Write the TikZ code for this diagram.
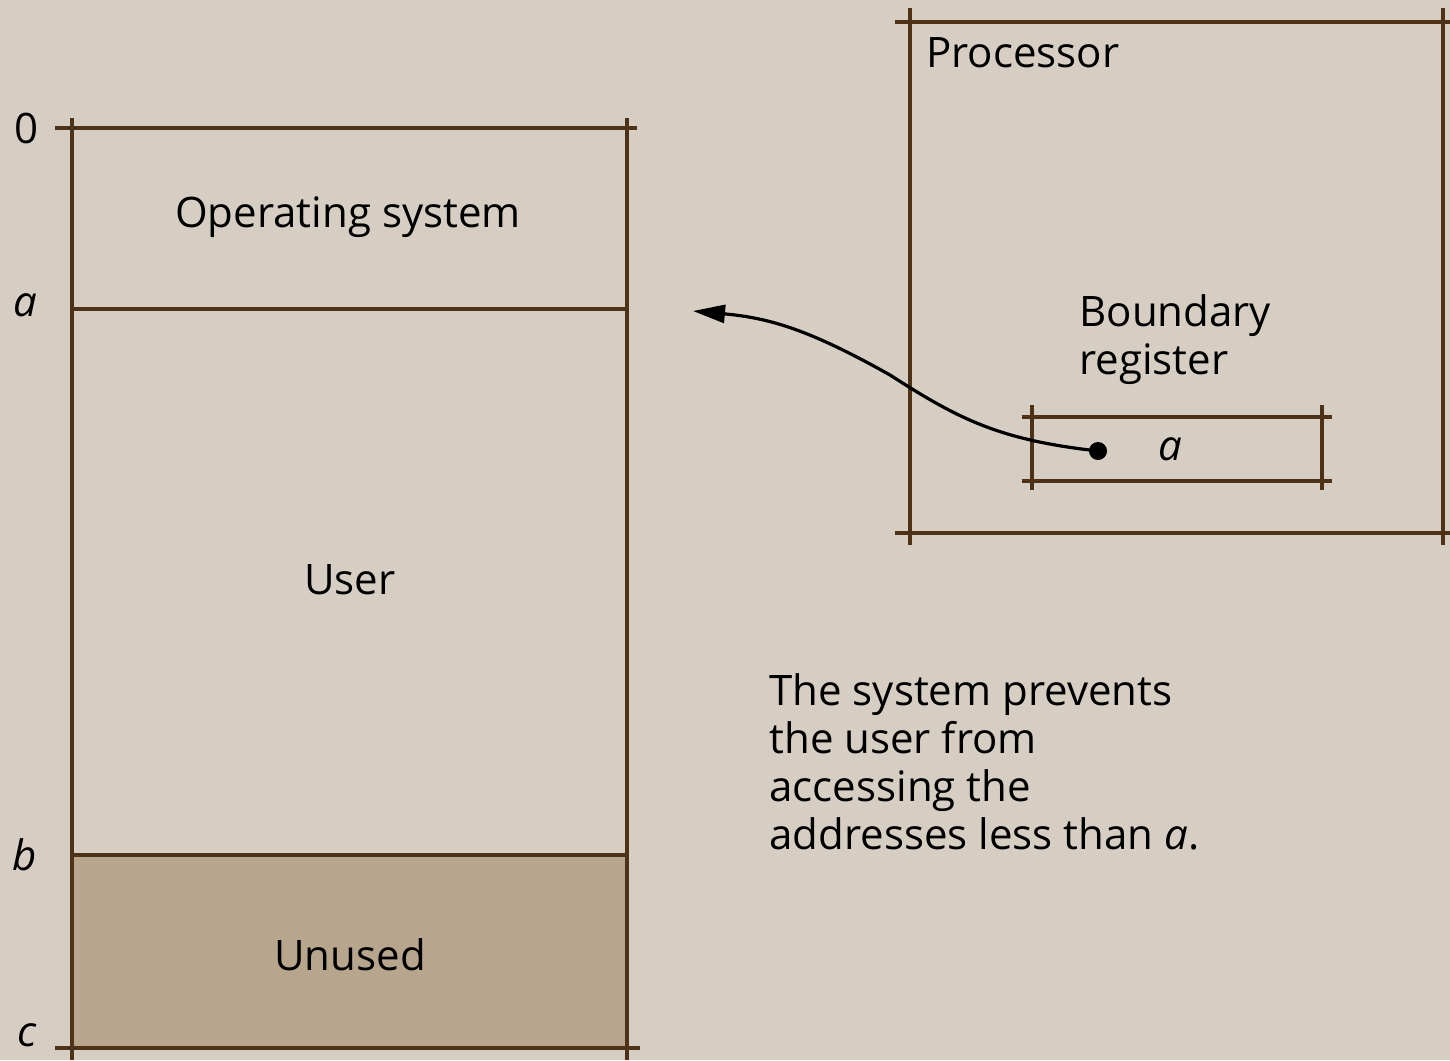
\documentclass[tikz,border=0pt]{standalone}
\usepackage{fontspec}
\setmainfont{Open Sans}
\usetikzlibrary{arrows.meta}
\definecolor{paper}{HTML}{D6CEC2}
\definecolor{rule}{HTML}{4E3218}
\definecolor{unusedfill}{HTML}{B7A58D}
\tikzset{
  frame/.style={draw=rule, line width=1.8pt},
  lbl/.style={font=\fontsize{21}{24}\selectfont, inner sep=0pt},
  addr/.style={font=\fontsize{21}{24}\selectfont\itshape, inner sep=0pt},
}
\begin{document}
\begin{tikzpicture}[x=0.5pt, y=-0.5pt]
\useasboundingbox (0,0) rectangle (1450,1060);
\fill[paper] (0,0) rectangle (1450,1060);

% memory layout
\fill[unusedfill] (72,855) rectangle (627,1048);
\draw[frame] (55,128) -- (637,128);
\draw[frame] (72,118) -- (72,1060);
\draw[frame] (627,118) -- (627,1060);
\draw[frame] (72,309) -- (627,309);
\draw[frame] (72,855) -- (627,855);
\draw[frame] (55,1048) -- (640,1048);

\node[lbl] (zero) at (27,128) {0};
\node[addr] (la) at (25,305) {a};
\node[addr] (lb) at (25,855) {b};
\node[addr] (lc) at (27,1035) {c};

\node[lbl] (os) at (348,217) {Operating system};
\node[lbl] (user) at (350,580) {User};
\node[lbl] (unused) at (350,955) {Unused};

% processor
\draw[frame] (895,22) -- (1450,22);
\draw[frame] (895,533) -- (1450,533);
\draw[frame] (910,8) -- (910,545);
\draw[frame] (1443,8) -- (1443,545);
\node[lbl, anchor=west] (proc) at (926,53) {Processor};
\node[lbl, anchor=north west, align=left] (breg) at (1079,294) {Boundary\\register};

% boundary register
\draw[frame] (1022,417) -- (1332,417);
\draw[frame] (1022,481) -- (1332,481);
\draw[frame] (1032,405) -- (1032,490);
\draw[frame] (1322,405) -- (1322,490);
\node[addr] (rega) at (1170,449) {a};
\fill[black] (1098,451) circle (9);
\coordinate (dot) at (1098,451);
\coordinate (tip) at (693,311);
\draw[line width=1.6pt, -{Triangle[length=16pt,width=9pt]}]
  (dot) .. controls (1000,440) and (960,420) .. (890,375)
  .. controls (810,330) and (770,318) .. (tip);

\node[lbl, anchor=north west, align=left] (note) at (769,673)
  {The system prevents\\the user from\\accessing the\\addresses less than \textit{a}.};
\end{tikzpicture}
\end{document}
